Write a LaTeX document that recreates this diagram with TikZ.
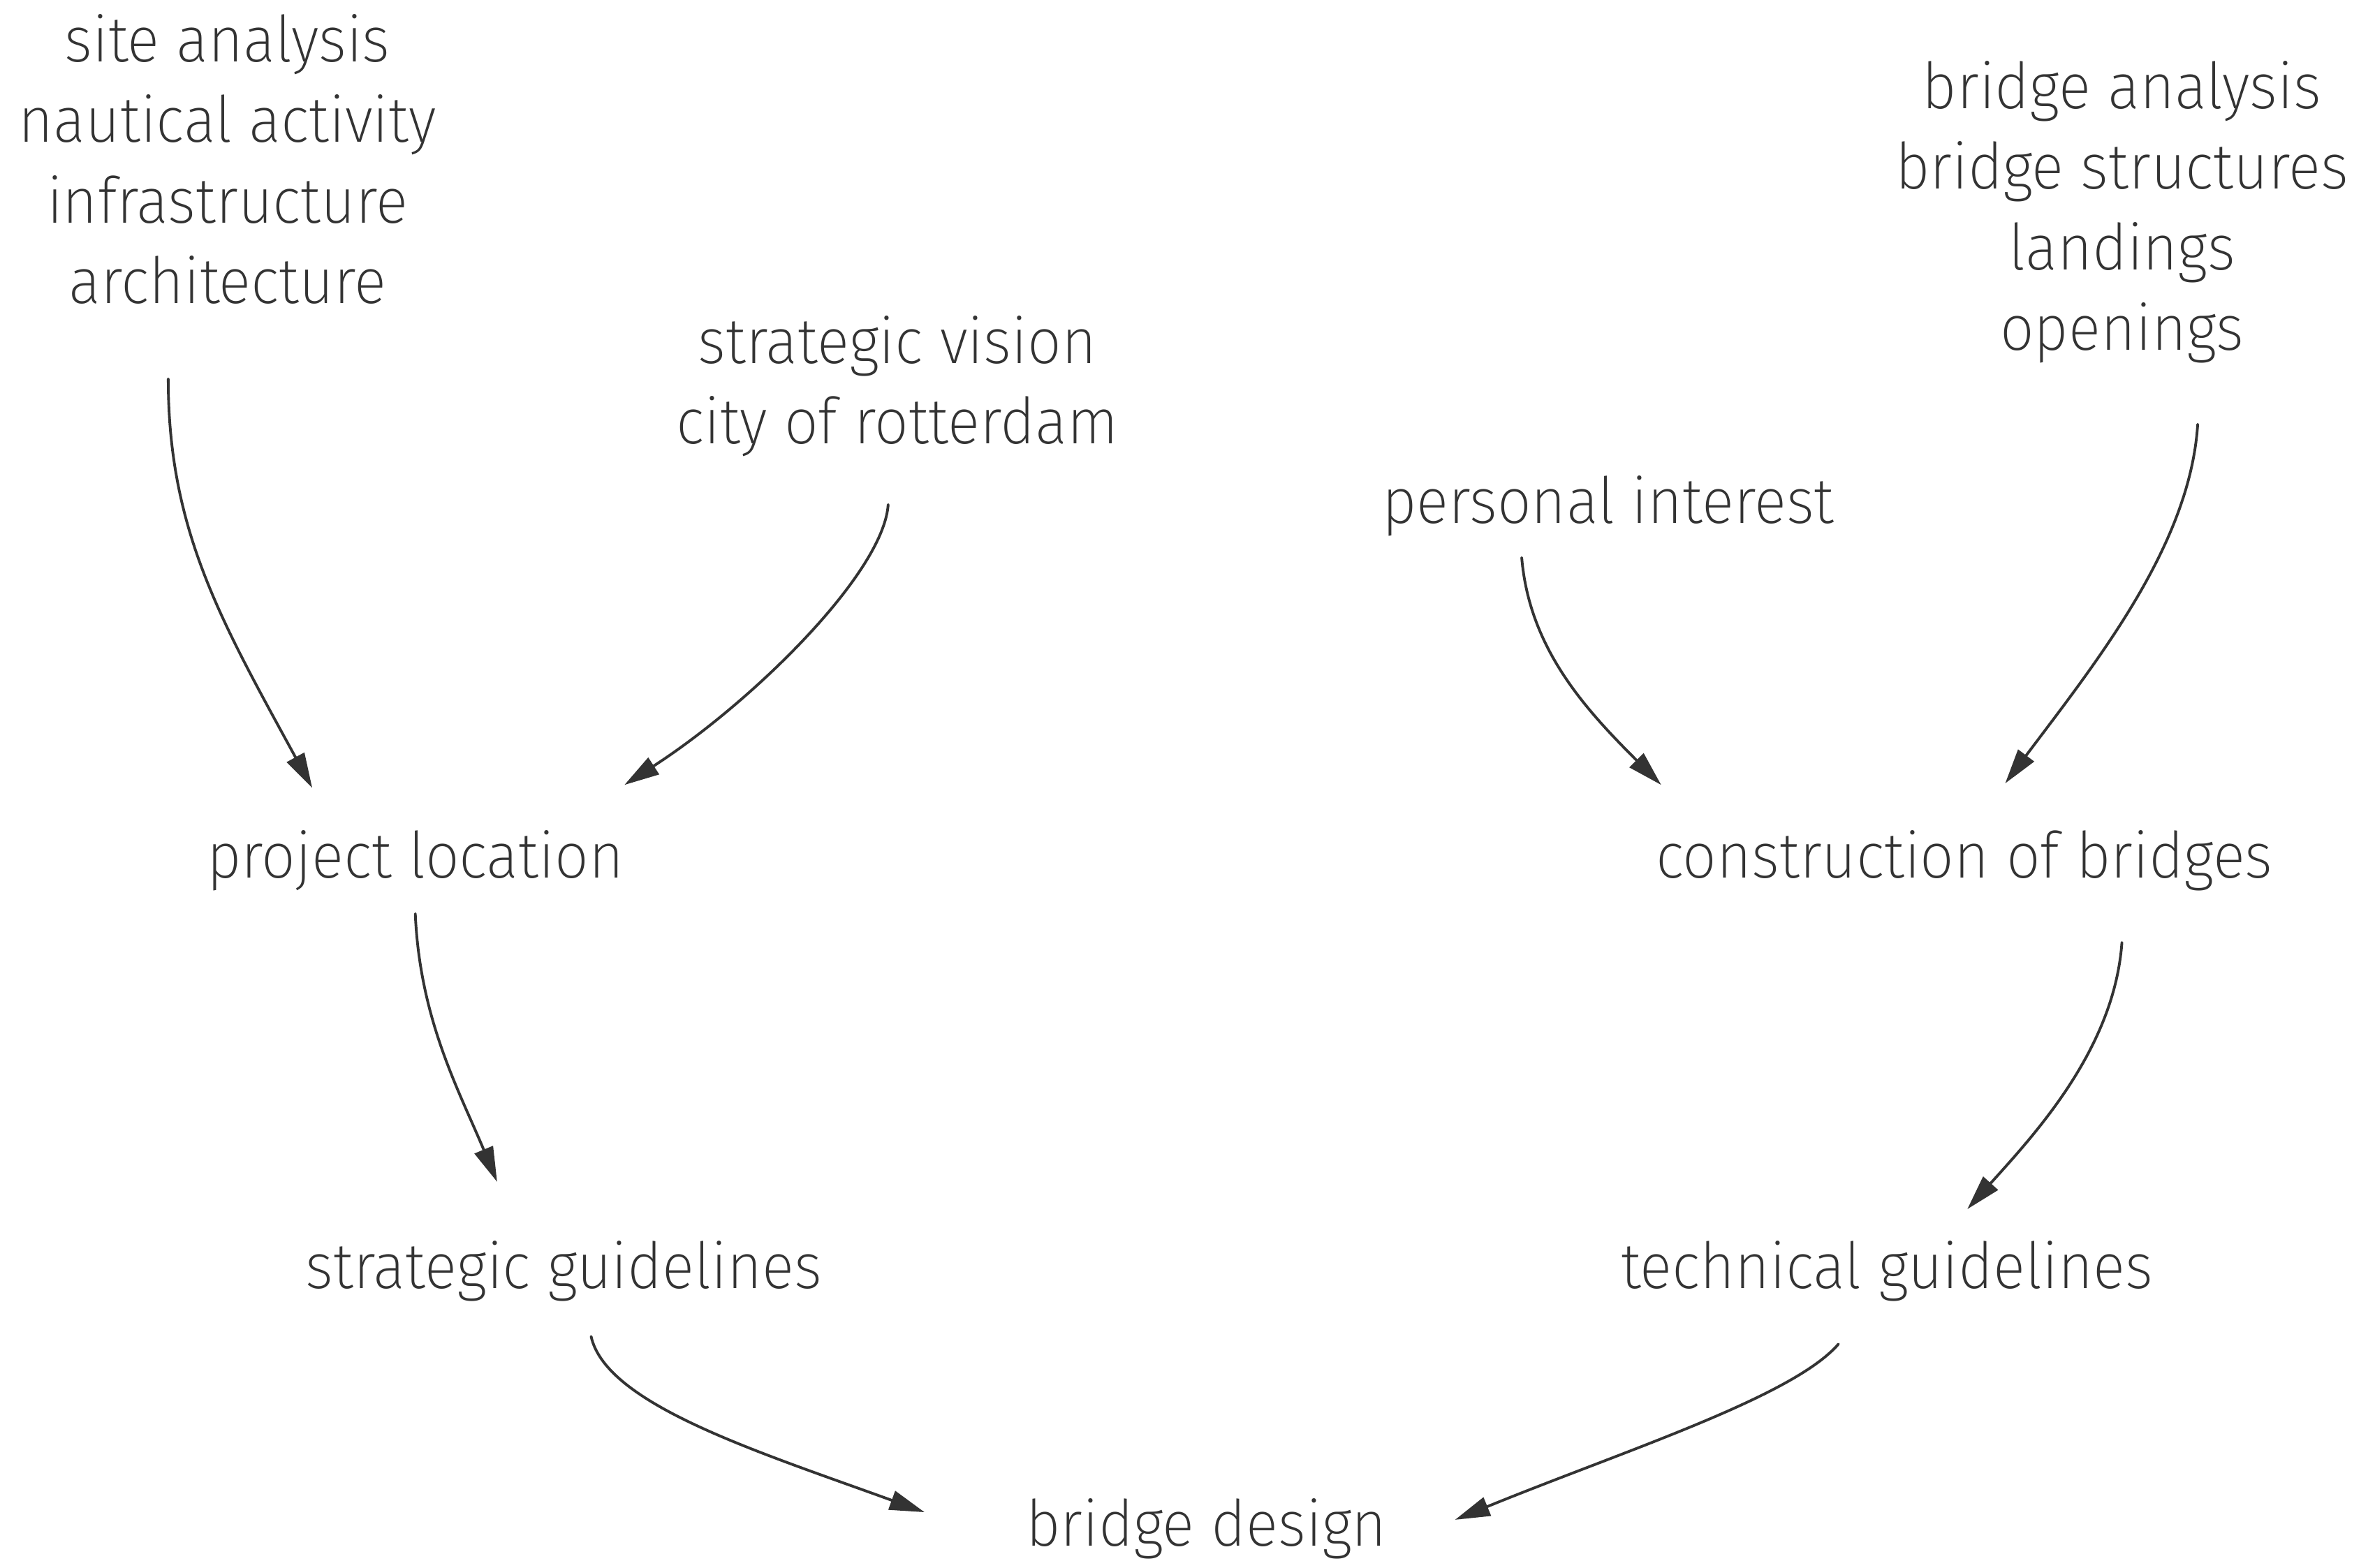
\documentclass[tikz,border=0pt]{standalone}
\usepackage{fontspec}
\setmainfont{Fira Sans}[UprightFont={* ExtraLight}, FakeStretch=0.94]
\usetikzlibrary{arrows.meta,calc}
\definecolor{ink}{RGB}{51,51,51}
\begin{document}
\begin{tikzpicture}[x=0.0217cm, y=-0.0217cm, font=\fontsize{26}{32.8}\selectfont, line join=round, line cap=round,
    lbl/.style={align=center, inner sep=0pt, text=ink},
    conn/.style={draw=ink, line width=1.1pt, -{Triangle[length=5mm,width=2.8mm]}}]
    \useasboundingbox (0,0) rectangle (1567,1034.6);
    % sources
    \node[lbl] (site) at (150,105) {site analysis\\nautical activity\\infrastructure\\architecture};
    \node[lbl] (vision) at (592,255) {strategic vision\\city of rotterdam};
    \node[lbl] (interest) at (1061,334) {personal interest};
    \node[lbl] (banalysis) at (1400,140) {bridge analysis\\bridge structures\\landings\\openings};
    % middle
    \node[lbl] (location) at (274,568) {project location};
    \node[lbl] (construction) at (1296,568) {construction of bridges};
    \node[lbl] (strategic) at (372,839) {strategic guidelines};
    \node[lbl] (technical) at (1245,839) {technical guidelines};
    \node[lbl] (design) at (796,1009) {bridge design};
    % arrows
    \draw[conn] ($(site.center)+(-39,145)$) .. controls +(0,100) and +(-60,-110) .. ($(location.center)+(-68,-48)$);
    \draw[conn] ($(vision.center)+(-6,78)$) .. controls +(-3,45) and +(85,-55) .. ($(location.center)+(138,-50)$);
    \draw[conn] ($(interest.center)+(-57,34)$) .. controls +(5,60) and +(-50,-50) .. ($(construction.center)+(-200,-50)$);
    \draw[conn] ($(banalysis.center)+(50,140)$) .. controls +(-5,80) and +(60,-80) .. ($(construction.center)+(27,-51)$);
    \draw[conn] ($(location.center)+(0,35)$) .. controls +(3,70) and +(-25,-60) .. ($(strategic.center)+(-44,-59)$);
    \draw[conn] ($(construction.center)+(104,54)$) .. controls +(-5,70) and +(45,-50) .. ($(technical.center)+(53,-41)$);
    \draw[conn] ($(strategic.center)+(18,43)$) .. controls +(10,45) and +(-110,-40) .. ($(design.center)+(-186,-11)$);
    \draw[conn] ($(technical.center)+(-32,48)$) .. controls +(-30,35) and +(110,-45) .. ($(design.center)+(164,-6)$);
\end{tikzpicture}
\end{document}
